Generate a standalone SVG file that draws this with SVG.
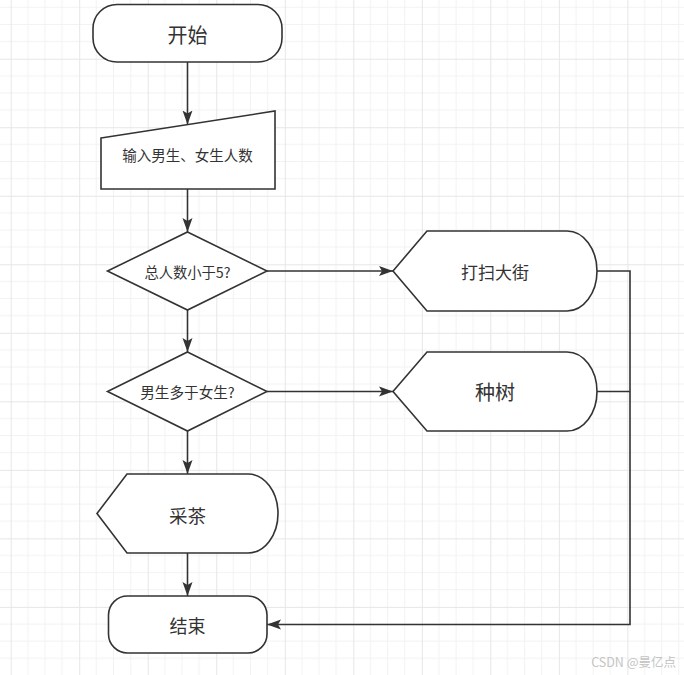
<svg xmlns="http://www.w3.org/2000/svg" width="684" height="675" viewBox="0 0 684 675">
  <defs>
    <pattern id="grid" patternUnits="userSpaceOnUse" x="10.7" y="-9.8" width="68.52" height="68.52">
      <path d="M17.13,0V68.52M34.26,0V68.52M51.39,0V68.52M0,17.13H68.52M0,34.26H68.52M0,51.39H68.52" stroke="#f2f2f2" stroke-width="1" fill="none"/>
      <path d="M0.5,0V68.52M0,0.5H68.52" stroke="#e6e6e6" stroke-width="1" fill="none"/>
    </pattern>
    <marker id="arrow" markerUnits="userSpaceOnUse" markerWidth="15" markerHeight="11" refX="14" refY="5.5" orient="auto">
      <path d="M0,0.5 L14,5.5 L0,10.5 L3,5.5 Z" fill="#333333"/>
    </marker>
  </defs>
  <style>
    .node { fill: #ffffff; stroke: #333333; stroke-width: 1.6; }
    .lbl { font-family: "Noto Sans CJK SC", "Liberation Sans", sans-serif; fill: #333333; text-anchor: middle; dominant-baseline: central; }
    .edge { fill: none; stroke: #333333; stroke-width: 1.6; }
  </style>
  <rect width="684" height="675" fill="#ffffff"/>
  <rect width="684" height="675" fill="url(#grid)"/>

  <g id="connectors">
    <path class="edge" d="M187.5,62 V124.5" marker-end="url(#arrow)"/>
    <path class="edge" d="M187.5,189 V232" marker-end="url(#arrow)"/>
    <path class="edge" d="M187.5,310 V352" marker-end="url(#arrow)"/>
    <path class="edge" d="M267,271 H393" marker-end="url(#arrow)"/>
    <path class="edge" d="M267,391.5 H393" marker-end="url(#arrow)"/>
    <path class="edge" d="M187.5,431 V474" marker-end="url(#arrow)"/>
    <path class="edge" d="M187.5,553 V596" marker-end="url(#arrow)"/>
    <path class="edge" d="M597,271 H630 V624.5 H267" marker-end="url(#arrow)"/>
    <path class="edge" d="M597,391.5 H630"/>
  </g>

  <g id="start">
    <rect class="node" x="93" y="4.5" width="189" height="57.5" rx="24" ry="24"/>
    <text class="lbl" x="187.5" y="34" font-size="20">开始</text>
  </g>

  <g id="input">
    <path class="node" d="M101,138 L275,111 L275,189 L101,189 Z"/>
    <text class="lbl" x="187.5" y="154" font-size="14.5">输入男生、女生人数</text>
  </g>

  <g id="decision1">
    <path class="node" d="M187.5,232 L267,271 L187.5,310 L107.5,271 Z"/>
    <text class="lbl" x="187.5" y="271" font-size="14.3">总人数小于5?</text>
  </g>

  <g id="decision2">
    <path class="node" d="M187.5,352 L267,391.5 L187.5,431 L107.5,391.5 Z"/>
    <text class="lbl" x="187.5" y="391.5" font-size="14.6">男生多于女生?</text>
  </g>

  <g id="sweep">
    <path class="node" d="M393,271 L427,231 L567,231 A30,40 0 0 1 567,311 L427,311 Z"/>
    <text class="lbl" x="495" y="271" font-size="17">打扫大街</text>
  </g>

  <g id="plant">
    <path class="node" d="M393,391.5 L427,352 L567,352 A30,39.5 0 0 1 567,431 L427,431 Z"/>
    <text class="lbl" x="495" y="391.5" font-size="20">种树</text>
  </g>

  <g id="tea">
    <path class="node" d="M97,513.5 L127,474 L248,474 A30,39.5 0 0 1 248,553 L127,553 Z"/>
    <text class="lbl" x="187.5" y="515" font-size="18.5">采茶</text>
  </g>

  <g id="end">
    <rect class="node" x="108.5" y="596" width="158.5" height="57" rx="19" ry="19"/>
    <text class="lbl" x="187.5" y="625" font-size="18">结束</text>
  </g>

  <text x="676" y="661" font-family="Noto Sans CJK SC, Liberation Sans, sans-serif" font-size="12.5" fill="#c4c4c4" text-anchor="end" dominant-baseline="central">CSDN @曼亿点</text>
</svg>
